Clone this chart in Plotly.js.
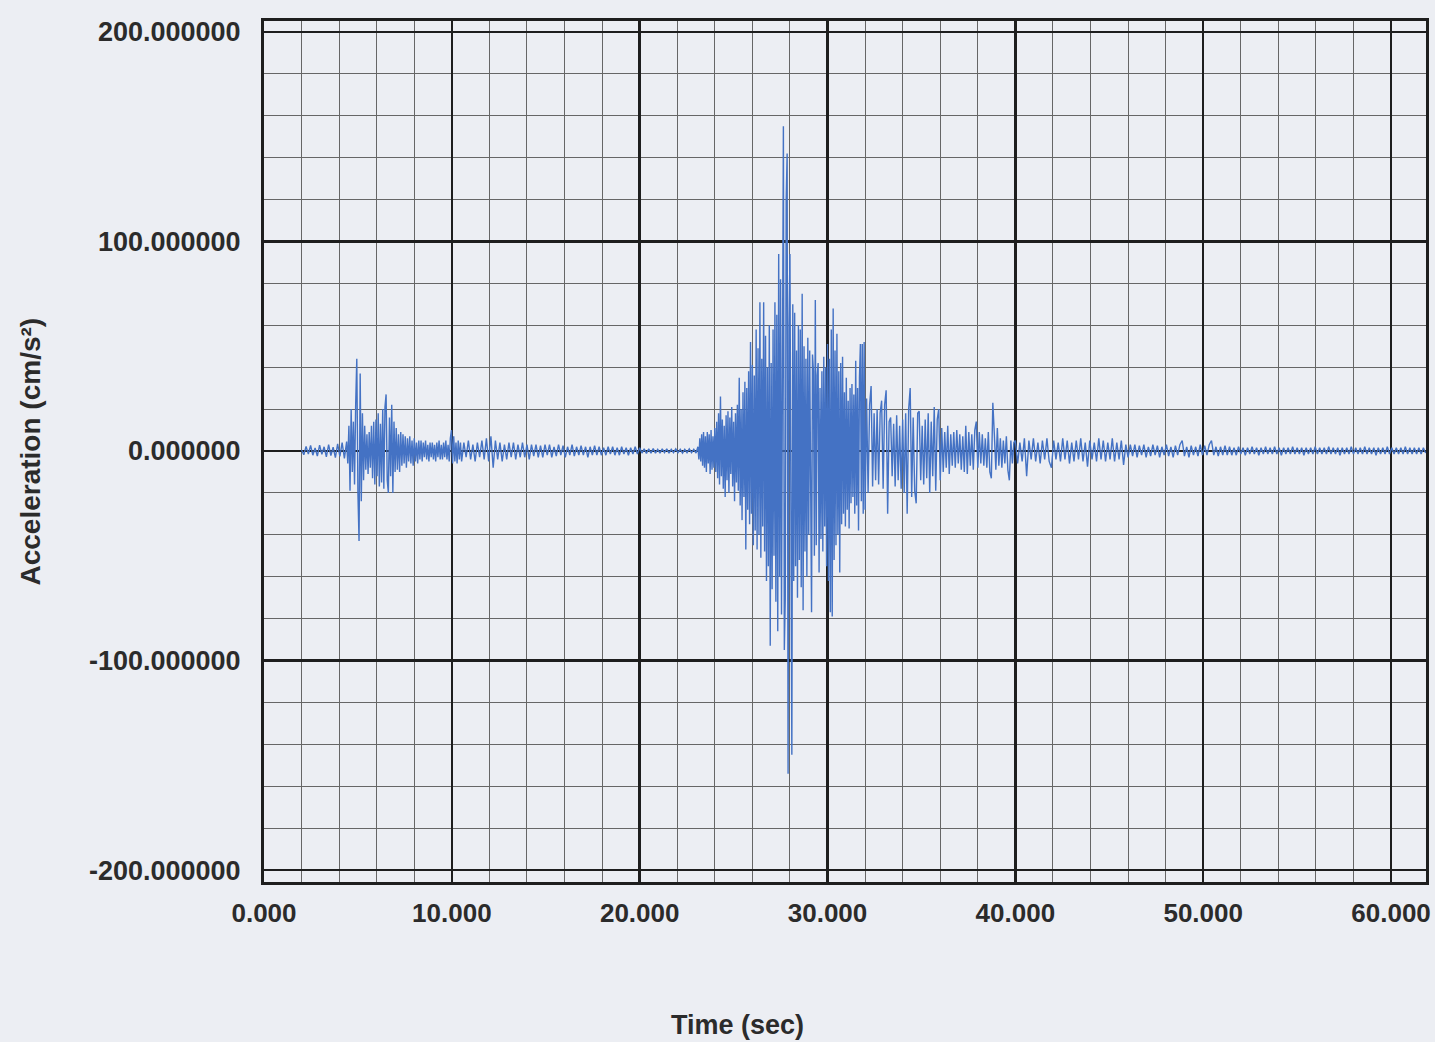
<!DOCTYPE html>
<html>
<head>
<meta charset="utf-8">
<script src="https://cdn.plot.ly/plotly-3.0.1.min.js"></script>
<style>
  html, body { margin: 0; padding: 0; background: #eceef3; }
  #chart { width: 1435px; height: 1042px; }
</style>
</head>
<body>
<div id="chart"></div>
<script>
const segA_start = 2.0,  segA_dt = 0.12;
const segA = [0.5,-1.8,2.2,-1.5,2.6,-2.0,1.4,-2.4,2.8,-1.6,2.0,-2.8,3.0,-2.2,1.8,-3.2,3.4,-2.6,4.0,-3.5];

const segB_start = 4.4,  segB_dt = 0.06;
const segB = [4.5,-6,12,-19,20,-10,14,-16,22,44,-20,-43,37,-24,18,-14,12,-9,8,-11,
  9,-8,12,-13,14,-16,15,-12,18,-17,13,-15,20,-18,21,27,-14,-20,16,-12,
  22,-20,14,-10,11,-9,8,-10,9,-7,8,-6,7,-8,6,-5,7,-6,5,-7,
  6,-5,4,-6,5,-4,5,-5,4,-3,5,-4,3,-5,4,-3,4,-4,3,-5,
  4,-3,5,-4,3,-4,4,-3,5,-4,3,-5,6,10,-6,7,-5,4,-6,5,-4,4];

const segC_start = 10.52, segC_dt = 0.12;
const segC = [-5,4,-3,5,-4,3,-5,4,-3,5,-4,6,-5,7,-8,5,-4,4,-5,3,
  -4,4,-3,4,-4,3,-3,4,-3,3,-4,3,-2.5,3,-3,2.5,-3,3,-2,3,
  -3,2,-2.5,3,-2,2.5,-3,2,-2,3,-2.5,2,-2,2.5,-2,2,-3,2,-2,2.5,
  -2,2,-2,1.5,-2,2,-1.5,2,-2,1.5,-2,2,-1.5,1.5,-2,1.5,-1.5,2,-1.5,1.5,
  -1,1,-1.2,1,-1,1.2,-1,0.8,-1,1,-0.8,1,-1,0.8,-0.8,1,-0.8,0.8,-1,0.8,
  -0.8,1,-0.8,0.8,-1];

const segD1_start = 23.1, segD1_dt = 0.05;
const segD1 = [2,-4,6,-5,8,-7,9,-8,7,-10,9,-6,8,-11,10,-9,7,-8,11,-10,
  14,-13,18,-16,26,-12,15,-18,12,-22,17,-14,19,-20,16,-11,21,-17,14,-24,
  18,-15,22,-19,35,-26,20,-33,28,-22,33,-47,30,-28,38,-35,52,-30,41,-45,
  36,-38,58,-47,49,-40,71,-51,44,-36,71,-48,55,-62,40,-55,60,-93,42,-66,
  58,-50,71,-72,65,-86,94,-60,82,-78,110,155,-95,-70,120,142,-154,60,94,-100,
  -145,70,-62,66,-55,48,-70,60,-52,58,-65,75,-76,50,-48,44,-60,54,-40,48,
  -55,-77,46,38,-50,72,-45,36,42,-58,30,-42,38,-48,45,-36,40,-55,51,-62,
  44,-77,58,-79,68,-52,48,-45,56,-40,38,-58,42,-35,45,-30,28,-36,35,-28,
  24,-37,30,-25,32,-22,27,-30,43,-26,30,-38,35,51,-24,51,-30,52];

const segD2_start = 32.0, segD2_dt = 0.08;
const segD2 = [-28,25,-20,22,31,-17,18,-14,20,-16,18,24,-18,22,29,-30,14,16,-12,13,
  -17,17,-14,12,-18,15,-20,18,-30,20,30,-22,16,-19,-25,18,19,-14,12,-16,
  15,-13,18,-20,14,-12,21,-19,15,20,-14,11,-10,9,-8,12,-11,8,-7,9,
  -8,10,-6,8,-9,7,-10,12,-11,9,-7,8,-9,10,14,-8,9,-6,8,-7,
  6,-8,9,-10,-13,23,8,-9,11,-7,6,-8,5,-6,7,-9,-14,5,-6,4];

const segE_start = 40.0, segE_dt = 0.12;
const segE = [5,-6,4,-5,6,-12,5,-4,6,-5,4,-6,5,-4,6,-5,-8,5,-4,4,
  -5,6,-4,5,-6,4,-5,5,-4,6,-5,4,-7.5,5,-4,4,-5,6,-4,5,
  -5,4,-4,6,-5,4,-4,5,-6.7,3,-3,3,-2.5,3,-3,2.5,-2,3,-3,2,
  -2.5,3,-2,2.5,-3,2,-2,3,-2.5,2,-3,2.5,-2,3,5,-2.5,2,-3,2.5,-2,
  2,-2.5,3,-2,2.5,-2,3,5,-2,2,-2.5,2,-2,2.5,-2,2,-2,1.5,-2,2,
  -1.5,1.5,-2,1.5,-1.5,2,-1.5,1.5,-2,1.5,-1.5,2,-1.5,1.5,-1.5,2,-1.5,1.5,-2,1.5,
  -1.5,1.5,-1.5,2,-1.5,1.5,-1.5,1.5,-2,1.5,-1.5,1.5,-1.5,2,-1.5,1.5,-1.5,1.5,-1.5,2,
  -1.5,1.5,-1.5,1.5,-2,1.5,-1.5,1.5,-1.5,2,-1.5,1.5,-1.5,1.5,-1.5,2,-1.5,1.5,-1.5,1.5,
  -2,1.5,-1.5,1.5,-1.5,2,-1.5,1.5,-1.5,1.5,-1.5,1.5,-1.5,2,-1.5,1.5,-1.5,1.5,-1.5,1.5,
  -1.5,1.5,-1];

const xTickVals = [0, 10, 20, 30, 40, 50, 60];
const xTickText = ["0.000","10.000","20.000","30.000","40.000","50.000","60.000"];
const yTickVals = [-200, -100, 0, 100, 200];
const yTickText = ["-200.000000","-100.000000","0.000000","100.000000","200.000000"];
const xTitle = "Time (sec)";
const yTitle = "Acceleration (cm/s²)";

// ---- Assemble the trace ----
const segments = [
  [segA_start, segA_dt, segA],
  [segB_start, segB_dt, segB],
  [segC_start, segC_dt, segC],
  [segD1_start, segD1_dt, segD1],
  [segD2_start, segD2_dt, segD2],
  [segE_start, segE_dt, segE]
];
const tx = [], ty = [];
segments.forEach(([s, dt, vals]) => {
  vals.forEach((v, i) => { tx.push(+(s + i * dt).toFixed(3)); ty.push(v); });
});

const font = "'Liberation Sans', Arial, sans-serif";
const bg = "#eceef3";

const axisCommon = {
  showline: true, mirror: true, linecolor: "#1e1e1e", linewidth: 3,
  showgrid: true, gridcolor: "#1e1e1e", gridwidth: 2.5,
  zeroline: false, ticks: "",
  fixedrange: true
};

const layout = {
  width: 1435, height: 1042,
  paper_bgcolor: bg, plot_bgcolor: bg,
  margin: {l: 264, r: 9, t: 21, b: 160, autoexpand: false},
  showlegend: false,
  xaxis: Object.assign({}, axisCommon, {
    range: [0, 61.86],
    tickmode: "array", tickvals: xTickVals, ticktext: xTickText,
    ticklabelstandoff: 6,
    tickfont: {family: font, size: 26, color: "#2b2b2b", weight: "bold"},
    minor: {dtick: 2, tick0: 0, showgrid: true, gridcolor: "#666666", gridwidth: 1, ticks: ""}
  }),
  yaxis: Object.assign({}, axisCommon, {
    range: [-205.7, 205.2],
    tickmode: "array", tickvals: yTickVals, ticktext: yTickText,
    ticklabelstandoff: 15,
    tickfont: {family: font, size: 27, color: "#2b2b2b", weight: "bold"},
    minor: {dtick: 20, tick0: 0, showgrid: true, gridcolor: "#666666", gridwidth: 1, ticks: ""}
  }),
  annotations: [
    {text: "<b>" + xTitle + "</b>", xref: "paper", yref: "paper",
     x: (737 - 264) / 1162, y: -(1025 - 882) / 861, xanchor: "center", yanchor: "middle",
     showarrow: false, font: {family: font, size: 27, color: "#2b2b2b"}},
    {text: "<b>" + yTitle + "</b>", xref: "paper", yref: "paper",
     x: (30 - 264) / 1162, y: 0.5, xanchor: "center", yanchor: "middle", textangle: -90,
     showarrow: false, font: {family: font, size: 28, color: "#2b2b2b"}}
  ]
};

const data = [{
  type: "scatter", mode: "lines", x: tx, y: ty,
  line: {color: "#4472c4", width: 1.4},
  hoverinfo: "skip"
}];

Plotly.newPlot("chart", data, layout, {displayModeBar: false, staticPlot: true});
</script>
</body>
</html>
